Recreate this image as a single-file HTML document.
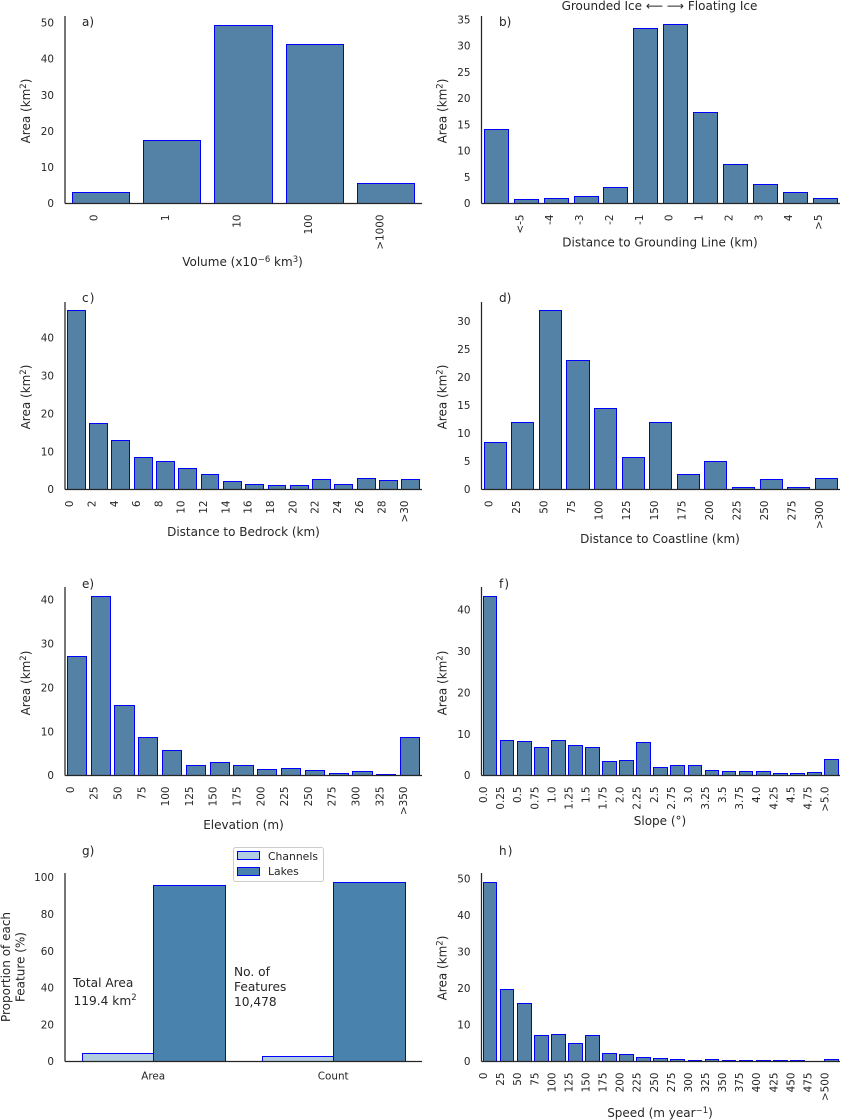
<!DOCTYPE html>
<html lang="en">
<head>
<meta charset="utf-8">
<title>Feature distribution charts</title>
<style>
html,body{margin:0;padding:0;background:#fff;}
svg{display:block;}
text{font-family:"DejaVu Sans","Liberation Sans",sans-serif;fill:#262626;}
.tick{font-size:10.4px;}
.title{font-size:12px;}
.letter{font-size:12px;}
.spaced{letter-spacing:1.2px;}
.note{font-size:12.2px;}
.leg{font-size:10.8px;}
</style>
</head>
<body>
<svg id="fig" width="841" height="1120" viewBox="0 0 841 1120" xmlns="http://www.w3.org/2000/svg">
  <rect x="0" y="0" width="841" height="1120" fill="#ffffff"/>

  <g id="panel-a">
    <text class="letter" x="82" y="26">a)</text>
    <text class="title" text-anchor="middle" transform="translate(30,111) rotate(-90)">Area (km<tspan dy="-4" font-size="8.5px">2</tspan><tspan dy="4">)</tspan></text>
    <text class="title" text-anchor="middle" x="242.5" y="266">Volume (x10<tspan dy="-4" font-size="8.5px">−6</tspan><tspan dy="4"> km</tspan><tspan dy="-4" font-size="8.5px">3</tspan><tspan dy="4">)</tspan></text>
  </g>

  <g id="panel-b">
    <text class="letter" x="499" y="26">b)</text>
    <text class="title" text-anchor="middle" x="659.5" y="10">Grounded Ice ⟵ ⟶ Floating Ice</text>
    <text class="title" text-anchor="middle" transform="translate(446.5,111) rotate(-90)">Area (km<tspan dy="-4" font-size="8.5px">2</tspan><tspan dy="4">)</tspan></text>
    <text class="title" text-anchor="middle" x="660" y="246.5">Distance to Grounding Line (km)</text>
  </g>

  <g id="panel-c">
    <text class="letter spaced" x="82" y="302">c)</text>
    <text class="title" text-anchor="middle" transform="translate(30,397) rotate(-90)">Area (km<tspan dy="-4" font-size="8.5px">2</tspan><tspan dy="4">)</tspan></text>
    <text class="title" text-anchor="middle" x="243.5" y="536">Distance to Bedrock (km)</text>
  </g>

  <g id="panel-d">
    <text class="letter" x="499" y="302">d)</text>
    <text class="title" text-anchor="middle" transform="translate(446.5,397) rotate(-90)">Area (km<tspan dy="-4" font-size="8.5px">2</tspan><tspan dy="4">)</tspan></text>
    <text class="title" text-anchor="middle" x="660" y="543">Distance to Coastline (km)</text>
  </g>

  <g id="panel-e">
    <text class="letter" x="82" y="588">e)</text>
    <text class="title" text-anchor="middle" transform="translate(30,683) rotate(-90)">Area (km<tspan dy="-4" font-size="8.5px">2</tspan><tspan dy="4">)</tspan></text>
    <text class="title" text-anchor="middle" x="243.5" y="829">Elevation (m)</text>
  </g>

  <g id="panel-f">
    <text class="letter spaced" x="499" y="588">f)</text>
    <text class="title" text-anchor="middle" transform="translate(446.5,683) rotate(-90)">Area (km<tspan dy="-4" font-size="8.5px">2</tspan><tspan dy="4">)</tspan></text>
    <text class="title" text-anchor="middle" x="660" y="825">Slope (°)</text>
  </g>

  <g id="panel-g">
    <text class="letter" x="82" y="855">g)</text>
    <text class="title" text-anchor="middle" transform="translate(10,967) rotate(-90)">Proportion of each</text>
    <text class="title" text-anchor="middle" transform="translate(24.5,967) rotate(-90)">Feature (%)</text>
  </g>

  <g id="panel-h">
    <text class="letter spaced" x="499" y="855">h)</text>
    <text class="title" text-anchor="middle" transform="translate(446.5,968) rotate(-90)">Area (km<tspan dy="-4" font-size="8.5px">2</tspan><tspan dy="4">)</tspan></text>
    <text class="title" text-anchor="middle" x="660" y="1117">Speed (m year<tspan dy="-4" font-size="8.5px">−1</tspan><tspan dy="4">)</tspan></text>
  </g>

  <g id="panel-g-notes">
    <text class="note" x="73" y="987">Total Area</text>
    <text class="note" x="73.5" y="1005">119.4 km<tspan dy="-5" font-size="8.5px">2</tspan></text>
    <text class="note" x="234" y="976">No. of</text>
    <text class="note" x="234" y="991">Features</text>
    <text class="note" x="234" y="1006">10,478</text>
  </g>

  <g id="legend">
    <rect x="233.5" y="847.5" width="90" height="34" rx="2" ry="2" fill="#ffffff" stroke="#cccccc" stroke-width="1"/>
    <g>
      <rect x="237.5" y="851.5" width="22" height="8" fill="#b3cde0" stroke="#0000ff" stroke-width="1"/>
      <text class="leg" x="268" y="860">Channels</text>
    </g>
    <g>
      <rect x="237.5" y="867.5" width="22" height="8" fill="#4a82ae" stroke="#0000ff" stroke-width="1"/>
      <text class="leg" x="268" y="875">Lakes</text>
    </g>
  </g>
</svg>

<script>
// ---------- chart data ----------
var volumeCategories = ['0', '1', '10', '100', '>1000'];
var volumeValues = [3.0, 17.4, 49.3, 44.0, 5.5];
var volumeTicks = [0, 10, 20, 30, 40, 50];

var groundingCategories = ['', '<-5', '-4', '-3', '-2', '-1', '0', '1', '2', '3', '4', '>5'];
var groundingValues = [14.1, 0.75, 0.95, 1.3, 3.05, 33.4, 34.0, 17.4, 7.4, 3.6, 2.1, 0.95];
var groundingTicks = [0, 5, 10, 15, 20, 25, 30, 35];

var bedrockCategories = ['0', '2', '4', '6', '8', '10', '12', '14', '16', '18', '20', '22', '24', '26', '28', '>30'];
var bedrockValues = [47.2, 17.4, 12.9, 8.45, 7.4, 5.5, 4.0, 2.1, 1.3, 1.05, 1.05, 2.6, 1.3, 2.9, 2.4, 2.6];
var bedrockTicks = [0, 10, 20, 30, 40];

var coastCategories = ['0', '25', '50', '75', '100', '125', '150', '175', '200', '225', '250', '275', '>300'];
var coastValues = [8.4, 11.95, 31.9, 23.0, 14.4, 5.7, 11.95, 2.7, 5.0, 0.35, 1.8, 0.35, 2.0];
var coastTicks = [0, 5, 10, 15, 20, 25, 30];

var elevationCategories = ['0', '25', '50', '75', '100', '125', '150', '175', '200', '225', '250', '275', '300', '325', '>350'];
var elevationValues = [27.15, 40.8, 16.0, 8.7, 5.7, 2.3, 3.0, 2.3, 1.4, 1.6, 1.15, 0.45, 0.9, 0.2, 8.7];
var elevationTicks = [0, 10, 20, 30, 40];

var slopeCategories = ['0.0', '0.25', '0.5', '0.75', '1.0', '1.25', '1.5', '1.75', '2.0', '2.25', '2.5', '2.75', '3.0', '3.25', '3.5', '3.75', '4.0', '4.25', '4.5', '4.75', '>5.0'];
var slopeValues = [43.3, 8.5, 8.2, 6.8, 8.5, 7.25, 6.8, 3.4, 3.6, 8.0, 1.95, 2.4, 2.4, 1.2, 1.0, 1.0, 1.0, 0.5, 0.5, 0.7, 3.9];
var slopeTicks = [0, 10, 20, 30, 40];

var speedCategories = ['0', '25', '50', '75', '100', '125', '150', '175', '200', '225', '250', '275', '300', '325', '350', '375', '400', '425', '450', '475', '>500'];
var speedValues = [49.1, 19.75, 15.9, 7.1, 7.4, 4.9, 7.1, 2.2, 1.9, 1.1, 0.8, 0.55, 0.27, 0.55, 0.27, 0.27, 0.27, 0.27, 0.27, 0, 0.55];
var speedTicks = [0, 10, 20, 30, 40, 50];

var proportionCategories = ['Area', 'Count'];
var channelValues = [4.2, 2.5];
var lakeValues = [95.8, 97.5];
var proportionTicks = [0, 20, 40, 60, 80, 100];

// ---------- helpers ----------
var SVG_NS = 'http://www.w3.org/2000/svg';
var BAR_FILL = '#5481a6';
var CHANNEL_FILL = '#b3cde0';
var LAKE_FILL = '#4a82ae';
var EDGE = '#0000ff';
var INK = '#262626';

function linearScale(d0, d1, r0, r1) {
  return function (v) { return r0 + (v - d0) / (d1 - d0) * (r1 - r0); };
}

function bandScale(count, left, right) {
  var step = (right - left) / count;
  return {
    step: step,
    center: function (i) { return left + step * (i + 0.5); }
  };
}

function node(tag, parent, attrs) {
  var el = document.createElementNS(SVG_NS, tag);
  for (var k in attrs) { el.setAttribute(k, attrs[k]); }
  parent.appendChild(el);
  return el;
}

function drawBar(parent, prefix, index, x0, x1, yTop, yBase, fill) {
  var left = Math.floor(x0) + 0.5;
  var right = Math.floor(x1) + 0.5;
  var top = Math.floor(yTop) + 0.5;
  var bar = node('rect', parent, {
    x: left, y: top, width: Math.max(right - left, 0), height: Math.max(yBase - top, 0),
    fill: fill, stroke: EDGE, 'stroke-width': 1
  });
  
  
  return bar;
}

function drawAxes(parent, prefix, frame, yScale, yTicks) {
  var ySpine = node('line', parent, {
    x1: frame.left, x2: frame.left, y1: frame.top, y2: frame.bottom,
    stroke: INK, 'stroke-width': 1.25
  });
  
  

  var xSpine = node('line', parent, {
    x1: frame.left, x2: frame.right, y1: frame.bottom, y2: frame.bottom,
    stroke: INK, 'stroke-width': 1.25
  });
  
  

  yTicks.forEach(function (t) {
    var label = node('text', parent, {
      'class': 'tick', 'text-anchor': 'end',
      x: frame.left - 11, y: yScale(t) + 3.7
    });
    label.textContent = String(t);
    
    
  });
}

function drawSingleSeries(panelId, frame, yMax, categories, values, yTicks) {
  var g = document.getElementById(panelId);
  var band = bandScale(categories.length, frame.left, frame.right);
  var yScale = linearScale(0, yMax, frame.bottom, frame.top);
  var barWidth = band.step * 0.8;

  values.forEach(function (v, i) {
    var c = band.center(i);
    drawBar(g, panelId, i, c - barWidth / 2, c + barWidth / 2, yScale(v), frame.bottom, BAR_FILL);
  });

  categories.forEach(function (name, i) {
    if (name === '') { return; }
    var tx = band.center(i) - 3;
    var ty = frame.bottom + 11;
    var label = node('text', g, {
      'class': 'tick', 'text-anchor': 'end',
      transform: 'translate(' + tx + ',' + ty + ') rotate(-90)'
    });
    label.textContent = name;
    
    
  });

  drawAxes(g, panelId, frame, yScale, yTicks);
}

function drawGrouped(panelId, frame, yMax, categories, seriesA, seriesB, yTicks) {
  var g = document.getElementById(panelId);
  var band = bandScale(categories.length, frame.left - 1.4, frame.right + 1.6);
  var yScale = linearScale(0, yMax, frame.bottom, frame.top);
  var barWidth = band.step * 0.397;

  categories.forEach(function (name, i) {
    var c = band.center(i);
    drawBar(g, panelId + '-channels', i, c - barWidth, c, yScale(seriesA[i]), frame.bottom, CHANNEL_FILL);
    drawBar(g, panelId + '-lakes', i, c, c + barWidth, yScale(seriesB[i]), frame.bottom, LAKE_FILL);
    var label = node('text', g, {
      'class': 'tick', 'text-anchor': 'middle',
      x: c - 0.4, y: frame.bottom + 18
    });
    label.textContent = name;
    
    
  });

  drawAxes(g, panelId, frame, yScale, yTicks);
}

// ---------- panels ----------
drawSingleSeries('panel-a', {left: 65, right: 422, top: 16, bottom: 203.5}, 51.9, volumeCategories, volumeValues, volumeTicks);
drawSingleSeries('panel-b', {left: 481.5, right: 840, top: 16, bottom: 203.5}, 35.7, groundingCategories, groundingValues, groundingTicks);
drawSingleSeries('panel-c', {left: 65, right: 422, top: 302, bottom: 489.5}, 49.5, bedrockCategories, bedrockValues, bedrockTicks);
drawSingleSeries('panel-d', {left: 481.5, right: 840, top: 302, bottom: 489.5}, 33.4, coastCategories, coastValues, coastTicks);
drawSingleSeries('panel-e', {left: 65, right: 422, top: 587, bottom: 775.5}, 42.9, elevationCategories, elevationValues, elevationTicks);
drawSingleSeries('panel-f', {left: 481.5, right: 840, top: 587, bottom: 775.5}, 45.5, slopeCategories, slopeValues, slopeTicks);
drawGrouped('panel-g', {left: 65, right: 422, top: 873, bottom: 1061.5}, 102.4, proportionCategories, channelValues, lakeValues, proportionTicks);
drawSingleSeries('panel-h', {left: 481.5, right: 840, top: 873, bottom: 1061.5}, 51.6, speedCategories, speedValues, speedTicks);
</script>
</body>
</html>
